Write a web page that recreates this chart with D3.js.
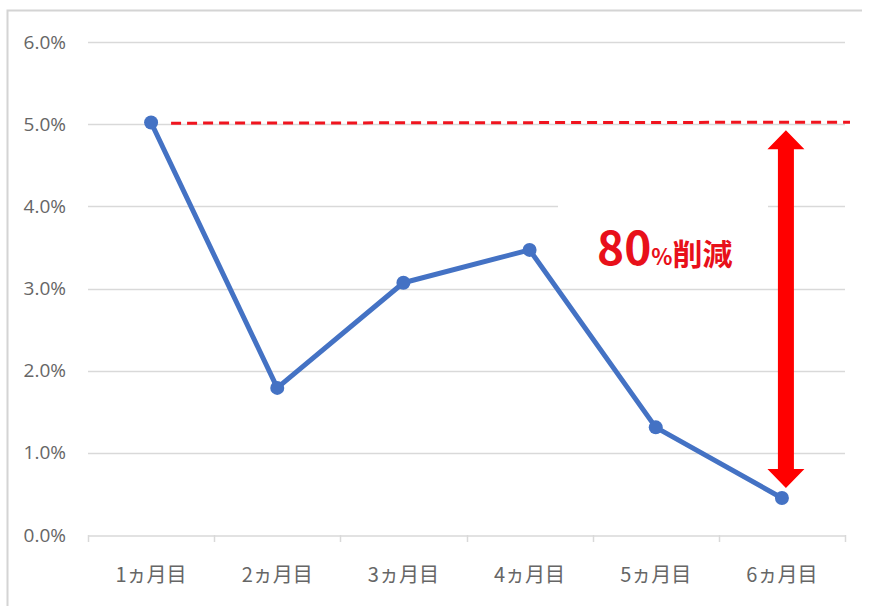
<!DOCTYPE html>
<html>
<head>
<meta charset="utf-8">
<script src="https://cdn.jsdelivr.net/npm/d3@7"></script>
<style>
  body { margin: 0; background: #fff; }
  svg { display: block; }
</style>
</head>
<body>
<div id="chart"></div>
<script>
// data
let months = ["1ヵ月目", "2ヵ月目", "3ヵ月目", "4ヵ月目", "5ヵ月目", "6ヵ月目"];
let rates = [5.02, 1.79, 3.07, 3.47, 1.31, 0.45];
let yTicks = [0, 1, 2, 3, 4, 5, 6];
let baseLevel = 5.0;
let labelBig = "80";
let labelPct = "%";
let labelJp = "削減";

let width = 869;
let height = 606;

let svg = d3.select('#chart').append('svg')
  .attr('width', width)
  .attr('height', height)

// outer frame (left + top only visible)
svg.append('path')
  .attr('d', 'M7.5,606 L7.5,10.5 L862,10.5')
  .attr('fill', 'none')
  .attr('stroke', '#d4d4d4')
  .attr('stroke-width', 2)

let x = d3.scaleBand()
  .domain(months)
  .range([88, 845]);

let y = d3.scaleLinear()
  .domain([0, 6])
  .range([535, 42]);

// gridlines
svg.append('g')
  .selectAll('line')
  .data(yTicks.filter(d => d > 0))
  .enter()
  .append('line')
  .attr('x1', 88)
  .attr('x2', 845)
  .attr('y1', d => Math.round(y(d)) + 0.5)
  .attr('y2', d => Math.round(y(d)) + 0.5)
  .attr('stroke', '#d9d9d9')
  .attr('stroke-width', 1.5)

// y labels
svg.append('g')
  .selectAll('text')
  .data(yTicks)
  .enter()
  .append('text')
  .attr('x', 66)
  .attr('y', d => y(d) + 6.5)
  .attr('text-anchor', 'end')
  .attr('font-family', 'Open Sans, sans-serif')
  .attr('font-size', 19)
  .attr('fill', '#666')
  .text(d => d.toFixed(1) + '%')

// x axis
let xAxis = d3.axisBottom(x).tickSize(0).tickFormat('');
let gx = svg.append('g')
  .attr('transform', 'translate(0,' + (Math.round(y(0)) + 0.5) + ')')
  .call(xAxis)
gx.select('.domain').attr('stroke', '#d9d9d9').attr('stroke-width', 1.5)

// tick marks at band edges
let edges = months.map(m => x(m)).concat([x.range()[1]]);
svg.append('g')
  .selectAll('line')
  .data(edges)
  .enter()
  .append('line')
  .attr('x1', d => Math.round(d) + 0.5)
  .attr('x2', d => Math.round(d) + 0.5)
  .attr('y1', y(0))
  .attr('y2', y(0) + 7)
  .attr('stroke', '#d9d9d9')
  .attr('stroke-width', 1.5)

svg.append('g')
  .selectAll('text')
  .data(months)
  .enter()
  .append('text')
  .attr('x', d => x(d) + x.bandwidth() / 2)
  .attr('y', 582)
  .attr('text-anchor', 'middle')
  .attr('font-family', 'Noto Sans CJK JP, sans-serif')
  .attr('font-size', 20)
  .attr('fill', '#666')
  .text(d => d)

// white box behind the annotation text
svg.append('rect')
  .attr('x', 558)
  .attr('y', 195)
  .attr('width', 210)
  .attr('height', 85)
  .attr('fill', '#fff')

// dashed reference line at first value
svg.append('line')
  .attr('x1', x(months[0]) + x.bandwidth() / 2 + 20)
  .attr('x2', 850)
  .attr('y1', y(baseLevel) - 1)
  .attr('y2', y(baseLevel) - 2)
  .attr('stroke', '#f0141e')
  .attr('stroke-width', 3)
  .attr('stroke-dasharray', '10,6')

// line series
let line = d3.line()
  .x((d, i) => x(months[i]) + x.bandwidth() / 2)
  .y(d => y(d));

svg.append('path')
  .datum(rates)
  .attr('d', line)
  .attr('fill', 'none')
  .attr('stroke', '#4472c4')
  .attr('stroke-width', 5)
  .attr('stroke-linejoin', 'round')

svg.append('g')
  .selectAll('circle')
  .data(rates)
  .enter()
  .append('circle')
  .attr('cx', (d, i) => x(months[i]) + x.bandwidth() / 2)
  .attr('cy', d => y(d))
  .attr('r', 7)
  .attr('fill', '#4472c4')

// double arrow
let ax = x(months[5]) + x.bandwidth() / 2 + 4;
let arrTop = y(baseLevel) + 6;
let arrBot = y(rates[5]) - 10;
let hw = 18.5, hh = 19, sw = 8;
svg.append('path')
  .attr('d', [
    'M', ax, arrTop,
    'L', ax + hw, arrTop + hh,
    'L', ax + sw, arrTop + hh,
    'L', ax + sw, arrBot - hh,
    'L', ax + hw, arrBot - hh,
    'L', ax, arrBot,
    'L', ax - hw, arrBot - hh,
    'L', ax - sw, arrBot - hh,
    'L', ax - sw, arrTop + hh,
    'L', ax - hw, arrTop + hh,
    'Z'
  ].join(' '))
  .attr('fill', '#ff0000')

// annotation text
let t = svg.append('text')
  .attr('x', 597)
  .attr('y', 265)
  .attr('fill', '#e8101a')
  .attr('font-family', 'Noto Sans CJK JP, sans-serif')
  .attr('font-weight', 'bold')
t.append('tspan').attr('font-size', 46).text(labelBig)
t.append('tspan').attr('font-size', 22).text(labelPct)
t.append('tspan').attr('font-size', 30).text(labelJp)
</script>
</body>
</html>
